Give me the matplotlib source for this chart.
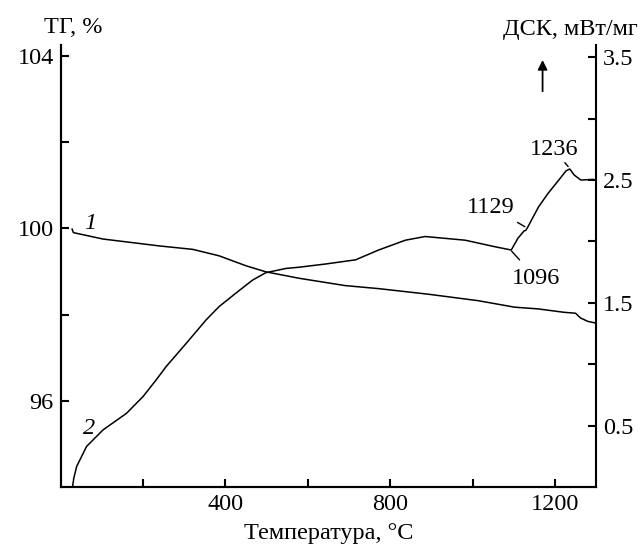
import matplotlib.pyplot as plt
from matplotlib.ticker import FixedLocator, FuncFormatter

plt.rcParams['font.family'] = ['Liberation Serif', 'DejaVu Serif']

# TG curve (1), left axis
t_tg = [28, 31, 40, 103, 240, 321, 385, 450, 498, 579, 691, 772, 893, 1014, 1102, 1159, 1223, 1250, 1262, 1280, 1300]
tg = [99.98, 99.90, 99.88, 99.75, 99.59, 99.51, 99.36, 99.13, 98.99, 98.84, 98.67, 98.60, 98.47, 98.32, 98.17, 98.13,
      98.05, 98.03, 97.92, 97.84, 97.80]

# DSC curve (2), right axis
t_dsc = [29, 32, 39, 63, 103, 160, 200, 232, 256, 305, 353, 385, 426, 466, 498, 547, 579, 643, 716, 772, 837, 885,
         982, 1054, 1094, 1110, 1125, 1129, 1133, 1160, 1183, 1207, 1227, 1236, 1247, 1263, 1292, 1300]
dsc = [0.0, 0.07, 0.167, 0.33, 0.465, 0.60, 0.736, 0.872, 0.98, 1.17, 1.36, 1.47, 1.58, 1.685, 1.745, 1.78, 1.79,
       1.816, 1.85, 1.93, 2.01, 2.04, 2.01, 1.957, 1.93, 2.025, 2.085, 2.09, 2.11, 2.28, 2.39, 2.49, 2.575, 2.59,
       2.54, 2.50, 2.505, 2.50]

fig = plt.figure(figsize=(6.41, 5.55), dpi=100)
ax = fig.add_axes([0.0945, 0.1225, 0.8355, 0.7965])
ax2 = ax.twinx()

ax.plot(t_tg, tg, color='black', lw=1.1)
ax2.plot(t_dsc, dsc, color='black', lw=1.1)

ax.set_xlim(0, 1300)
ax.set_ylim(94.0, 104.25)
ax2.set_ylim(0, 3.6)

fs = 17.5
ax.xaxis.set_major_locator(FixedLocator([200, 400, 600, 800, 1000, 1200]))
ax.xaxis.set_major_formatter(FuncFormatter(lambda v, p: '%d' % v if v in (400, 800, 1200) else ''))
ax.yaxis.set_major_locator(FixedLocator([96, 98, 100, 102, 104]))
ax.yaxis.set_major_formatter(FuncFormatter(lambda v, p: '%d' % v if v in (96, 100, 104) else ''))
ax2.yaxis.set_major_locator(FixedLocator([0.5, 1.0, 1.5, 2.0, 2.5, 3.0, 3.5]))
ax2.yaxis.set_major_formatter(FuncFormatter(lambda v, p: '%.1f' % v if round(v * 2) % 2 == 1 else ''))

for a in (ax, ax2):
    a.tick_params(direction='in', length=6, width=1.5, labelsize=fs, pad=5)
    for s in a.spines.values():
        s.set_linewidth(1.5)
    a.spines['top'].set_visible(False)
ax.spines['right'].set_visible(False)

ax.set_xlabel('Температура, °C', fontsize=fs, labelpad=6)
fig.text(0.114, 0.951, 'ТГ, %', fontsize=fs, ha='center', va='center')
fig.text(0.89, 0.946, 'ДСК, мВт/мг', fontsize=fs, ha='center', va='center')

# curve numbers
ax.text(73, 100.1, '1', fontsize=fs, style='italic', ha='center', va='center')
ax2.text(68, 0.48, '2', fontsize=fs, style='italic', ha='center', va='center')

# peak labels with leader lines
ax2.annotate('1236', xy=(1232, 2.61), xytext=(1197, 2.75), fontsize=fs, ha='center', va='center',
             arrowprops=dict(arrowstyle='-', color='black', lw=1, shrinkA=6, shrinkB=0))
ax2.annotate('1129', xy=(1127, 2.12), xytext=(1045, 2.28), fontsize=fs, ha='center', va='center',
             arrowprops=dict(arrowstyle='-', color='black', lw=1, shrinkA=3, shrinkB=0))
ax2.annotate('1096', xy=(1095, 1.92), xytext=(1155, 1.70), fontsize=fs, ha='center', va='center',
             arrowprops=dict(arrowstyle='-', color='black', lw=1, shrinkA=5, shrinkB=0))

# arrow (exo up)
ax2.annotate('', xy=(1170, 3.5), xytext=(1170, 3.2),
             arrowprops=dict(arrowstyle='-|>', color='black', lw=1.3, mutation_scale=14))

fig.savefig('out.png', dpi=100)
